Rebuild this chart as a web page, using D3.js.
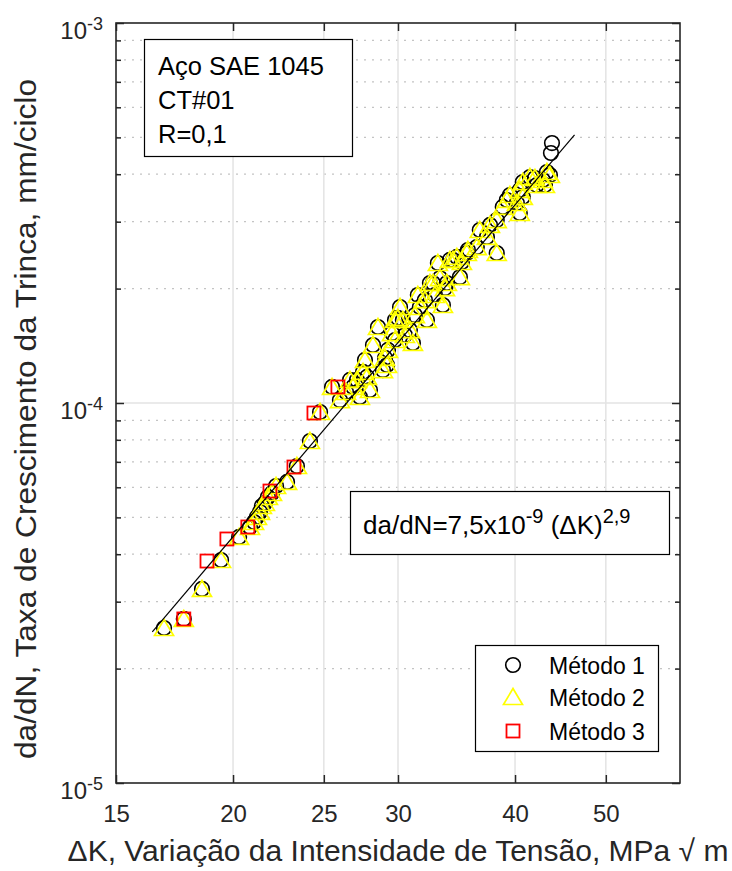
<!DOCTYPE html>
<html><head><meta charset="utf-8">
<script src="https://cdn.jsdelivr.net/npm/d3@7/dist/d3.min.js"></script>
<style>
body{margin:0;background:#fff;}
text{font-family:"Liberation Sans",Arial,Helvetica,sans-serif;}
</style></head><body>
<svg id="chart" width="732" height="871"></svg>
<script>
// ---------- data ----------
const xTicks = [15, 20, 25, 30, 40, 50];
const yMajorTicks = [1e-5, 1e-4, 1e-3];
const yTickExponents = ["-5", "-4", "-3"];
const yMinorTicks = [2e-5,3e-5,4e-5,5e-5,6e-5,7e-5,8e-5,9e-5,2e-4,3e-4,4e-4,5e-4,6e-4,7e-4,8e-4,9e-4];

const method1K = [16.88,17.72,18.53,19.42,20.30,20.85,21.06,21.21,21.37,21.47,21.63,21.79,22.01,22.23,22.84,23.40,24.16,24.77,25.51,26.01,26.40,26.86,27.12,27.32,27.53,27.80,28.00,28.21,28.56,28.91,29.06,29.20,29.27,29.56,29.78,29.99,30.15,30.36,30.51,30.89,31.12,31.27,31.66,32.05,32.21,32.45,32.69,32.85,33.09,33.26,33.50,33.67,33.83,34.08,34.34,34.67,34.93,35.53,35.62,36.41,36.68,37.33,38.24,38.24,38.81,39.20,40.18,40.47,40.77,40.47,41.49,40.77,42.83,43.58,43.26,42.20,26.66,27.66,29.78,31.50,35.10,37.61,39.50,42.01,43.05,43.80,43.69];
const method1Rate = [2.558e-5,2.702e-5,3.241e-5,3.862e-5,4.441e-5,4.717e-5,4.862e-5,5.012e-5,5.167e-5,5.358e-5,5.456e-5,5.658e-5,5.797e-5,6.048e-5,6.197e-5,6.826e-5,7.943e-5,9.470e-5,1.102e-4,1.018e-4,1.069e-4,1.102e-4,1.150e-4,1.037e-4,1.207e-4,1.171e-4,1.082e-4,1.421e-4,1.585e-4,1.221e-4,1.314e-4,1.259e-4,1.379e-4,1.528e-4,1.465e-4,1.674e-4,1.789e-4,1.654e-4,1.510e-4,1.556e-4,1.439e-4,1.704e-4,1.789e-4,1.866e-4,1.654e-4,2.069e-4,2.069e-4,1.924e-4,2.336e-4,2.132e-4,1.811e-4,2.007e-4,2.069e-4,2.379e-4,2.379e-4,2.423e-4,2.145e-4,2.482e-4,2.527e-4,2.573e-4,2.853e-4,2.735e-4,2.482e-4,3.030e-4,3.281e-4,3.422e-4,3.360e-4,3.162e-4,3.485e-4,3.636e-4,3.933e-4,3.816e-4,3.862e-4,3.981e-4,4.054e-4,3.747e-4,1.150e-4,1.298e-4,1.654e-4,1.924e-4,2.350e-4,2.941e-4,3.527e-4,3.909e-4,3.747e-4,4.832e-4,4.549e-4];

const method2K = [16.88,17.72,18.53,19.42,20.30,20.85,21.06,21.21,21.37,21.47,21.63,21.79,22.01,22.23,22.84,23.40,24.16,24.77,25.51,26.01,26.40,26.86,27.12,27.32,27.53,27.80,28.00,28.21,28.56,28.91,29.06,29.20,29.27,29.56,29.78,29.99,30.15,30.36,30.51,30.89,31.12,31.27,31.66,32.05,32.21,32.45,32.69,32.85,33.09,33.26,33.50,33.67,33.83,34.08,34.34,34.67,34.93,35.53,35.62,36.41,36.68,37.33,38.24,38.24,38.81,39.20,40.18,40.47,40.77,40.47,41.49,40.77,42.83,43.58,43.26,42.20,26.66,27.66,29.78,31.50,35.10,37.61,39.50,42.01,43.05];
const method2Rate = [2.558e-5,2.702e-5,3.241e-5,3.862e-5,4.441e-5,4.717e-5,4.862e-5,5.012e-5,5.167e-5,5.358e-5,5.456e-5,5.658e-5,5.797e-5,6.048e-5,6.197e-5,6.826e-5,7.943e-5,9.470e-5,1.102e-4,1.018e-4,1.069e-4,1.102e-4,1.150e-4,1.037e-4,1.207e-4,1.171e-4,1.082e-4,1.421e-4,1.585e-4,1.221e-4,1.314e-4,1.259e-4,1.379e-4,1.528e-4,1.465e-4,1.674e-4,1.789e-4,1.654e-4,1.510e-4,1.556e-4,1.439e-4,1.704e-4,1.789e-4,1.866e-4,1.654e-4,2.069e-4,2.069e-4,1.924e-4,2.336e-4,2.132e-4,1.811e-4,2.007e-4,2.069e-4,2.379e-4,2.379e-4,2.423e-4,2.145e-4,2.482e-4,2.527e-4,2.573e-4,2.853e-4,2.735e-4,2.482e-4,3.030e-4,3.281e-4,3.422e-4,3.360e-4,3.162e-4,3.485e-4,3.636e-4,3.933e-4,3.816e-4,3.862e-4,3.981e-4,4.054e-4,3.747e-4,1.150e-4,1.298e-4,1.654e-4,1.924e-4,2.350e-4,2.941e-4,3.527e-4,3.909e-4,3.747e-4];

const method3K = [17.72,18.76,19.70,20.74,21.90,23.23,24.40,25.88];
const method3Rate = [2.702e-5,3.838e-5,4.387e-5,4.718e-5,5.866e-5,6.785e-5,9.412e-5,1.102e-4];

const fitK = [16.4, 46.3];
const fitRate = [2.5e-5, 5.08e-4];

const legendLabels = ["Método 1", "Método 2", "Método 3"];
const infoLines = ["Aço SAE 1045", "CT#01", "R=0,1"];

// ---------- layout ----------
const svg = d3.select("#chart");
const L = 116, R = 680, T = 23, B = 783;
const x = d3.scaleLog().domain([15, 60]).range([L, R]);
const y = d3.scaleLog().domain([1e-5, 1e-3]).range([B, T]);
const axisColor = "#262626";

svg.append("rect").attr("x",0).attr("y",0).attr("width",732).attr("height",871).attr("fill","#fff");

// grid
const grid = svg.append("g");
grid.selectAll("line.ymin").data(yMinorTicks).enter().append("line")
  .attr("x1", L).attr("x2", R).attr("y1", d => y(d)).attr("y2", d => y(d))
  .attr("stroke", "#c4c4c4").attr("stroke-width", 1.2).attr("stroke-dasharray", "2,6");
grid.selectAll("line.ymaj").data(yMajorTicks.slice(1, 2)).enter().append("line")
  .attr("x1", L).attr("x2", R).attr("y1", d => y(d)).attr("y2", d => y(d))
  .attr("stroke", "#e3e3e3").attr("stroke-width", 1.5);
grid.selectAll("line.xmaj").data(xTicks.slice(1)).enter().append("line")
  .attr("x1", d => x(d)).attr("x2", d => x(d)).attr("y1", T).attr("y2", B)
  .attr("stroke", "#e3e3e3").attr("stroke-width", 1.5);

// markers
const zip = (a, b) => a.map((v, i) => [v, b[i]]);
const tri = "M0,-8.5L9.5,7.5L-9.5,7.5Z";
svg.append("g").selectAll("circle").data(zip(method1K, method1Rate)).enter().append("circle")
  .attr("cx", d => x(d[0])).attr("cy", d => y(d[1])).attr("r", 7.3)
  .attr("fill", "none").attr("stroke", "#000").attr("stroke-width", 1.6);
svg.append("g").selectAll("path").data(zip(method2K, method2Rate)).enter().append("path")
  .attr("d", tri).attr("transform", d => `translate(${x(d[0])},${y(d[1])})`)
  .attr("fill", "none").attr("stroke", "#ffff00").attr("stroke-width", 1.7);
svg.append("g").selectAll("rect").data(zip(method3K, method3Rate)).enter().append("rect")
  .attr("x", d => x(d[0]) - 6.5).attr("y", d => y(d[1]) - 6.5).attr("width", 13).attr("height", 13)
  .attr("fill", "none").attr("stroke", "#ff0000").attr("stroke-width", 1.8);

// fit line
svg.append("path").datum(zip(fitK, fitRate))
  .attr("d", d3.line().x(d => x(d[0])).y(d => y(d[1])))
  .attr("stroke", "#000").attr("stroke-width", 1.2).attr("fill", "none");

// axes
function styleAxis(g) {
  g.select(".domain").remove();
  g.selectAll(".tick line").attr("stroke", axisColor).attr("stroke-width", 1.5);
  g.selectAll("text").attr("fill", axisColor).style("font-size", "24px");
}
svg.append("g").attr("transform", `translate(0,${B})`)
  .call(d3.axisBottom(x).tickValues(xTicks).tickFormat(d3.format("d")).tickSizeInner(-8).tickSizeOuter(0))
  .call(styleAxis)
  .call(g => g.selectAll("text").attr("y", 39).attr("dy", 0));
svg.append("g").attr("transform", `translate(0,${T})`)
  .call(d3.axisTop(x).tickValues(xTicks).tickFormat("").tickSizeInner(-8).tickSizeOuter(0))
  .call(styleAxis);
svg.append("g").attr("transform", `translate(${L},0)`)
  .call(d3.axisLeft(y).tickValues(yMajorTicks).tickFormat("").tickSizeInner(-8).tickSizeOuter(0))
  .call(styleAxis);
svg.append("g").attr("transform", `translate(${L},0)`)
  .call(d3.axisLeft(y).tickValues(yMinorTicks).tickFormat("").tickSizeInner(-5).tickSizeOuter(0))
  .call(styleAxis);
svg.append("g").attr("transform", `translate(${R},0)`)
  .call(d3.axisRight(y).tickValues(yMajorTicks).tickFormat("").tickSizeInner(-8).tickSizeOuter(0))
  .call(styleAxis);
svg.append("g").attr("transform", `translate(${R},0)`)
  .call(d3.axisRight(y).tickValues(yMinorTicks).tickFormat("").tickSizeInner(-5).tickSizeOuter(0))
  .call(styleAxis);

// y tick labels 10^n
const ylab = svg.append("g");
yMajorTicks.forEach((v, i) => {
  const t = ylab.append("text").attr("x", 103).attr("y", y(v) + 16)
    .attr("text-anchor", "end").attr("fill", axisColor);
  t.append("tspan").style("font-size", "24px").text("10");
  t.append("tspan").style("font-size", "18px").attr("dy", -9).text(yTickExponents[i]);
});

// box
svg.append("rect").attr("x", L).attr("y", T).attr("width", R - L).attr("height", B - T)
  .attr("fill", "none").attr("stroke", axisColor).attr("stroke-width", 1.6);

// axis labels
svg.append("text").attr("x", (L + R) / 2).attr("y", 861).attr("text-anchor", "middle")
  .attr("fill", axisColor).style("font-size", "30px")
  .text("ΔK, Variação da Intensidade de Tensão, MPa √ m");
svg.append("text").attr("transform", `translate(36,419) rotate(-90) scale(1.055,1)`)
  .attr("text-anchor", "middle").attr("fill", axisColor).style("font-size", "30px")
  .text("da/dN, Taxa de Crescimento da Trinca, mm/ciclo");

// info box
svg.append("rect").attr("x", 144.5).attr("y", 39.5).attr("width", 208).attr("height", 117)
  .attr("fill", "#fff").attr("stroke", "#000").attr("stroke-width", 1.2);
infoLines.forEach((s, i) => {
  svg.append("text").attr("x", 158).attr("y", 75 + i * 34).style("font-size", "25.5px")
    .attr("fill", "#000").text(s);
});

// equation box
svg.append("rect").attr("x", 350.5).attr("y", 491.5).attr("width", 319).attr("height", 63)
  .attr("fill", "#fff").attr("stroke", "#000").attr("stroke-width", 1.2);
const eq = svg.append("text").attr("x", 363).attr("y", 534).attr("fill", "#000").style("font-size", "26px");
eq.append("tspan").text("da/dN=7,5x10");
eq.append("tspan").style("font-size", "20px").attr("dy", -11).text("-9");
eq.append("tspan").attr("dy", 11).text(" (ΔK)");
eq.append("tspan").style("font-size", "20px").attr("dy", -11).text("2,9");

// legend
svg.append("rect").attr("x", 475.5).attr("y", 645.5).attr("width", 183).attr("height", 106)
  .attr("fill", "#fff").attr("stroke", "#000").attr("stroke-width", 1.2);
const lg = svg.append("g");
const rowsY = [665, 697, 731];
lg.append("circle").attr("cx", 513).attr("cy", rowsY[0]).attr("r", 7.3)
  .attr("fill", "none").attr("stroke", "#000").attr("stroke-width", 1.6);
lg.append("path").attr("d", tri).attr("transform", `translate(513,${rowsY[1]})`)
  .attr("fill", "none").attr("stroke", "#ffff00").attr("stroke-width", 1.7);
lg.append("rect").attr("x", 513 - 6.5).attr("y", rowsY[2] - 6.5).attr("width", 13).attr("height", 13)
  .attr("fill", "none").attr("stroke", "#ff0000").attr("stroke-width", 1.8);
legendLabels.forEach((s, i) => {
  lg.append("text").attr("x", 549).attr("y", rowsY[i] + 9).style("font-size", "23px")
    .attr("fill", "#000").text(s);
});
</script>
</body></html>
